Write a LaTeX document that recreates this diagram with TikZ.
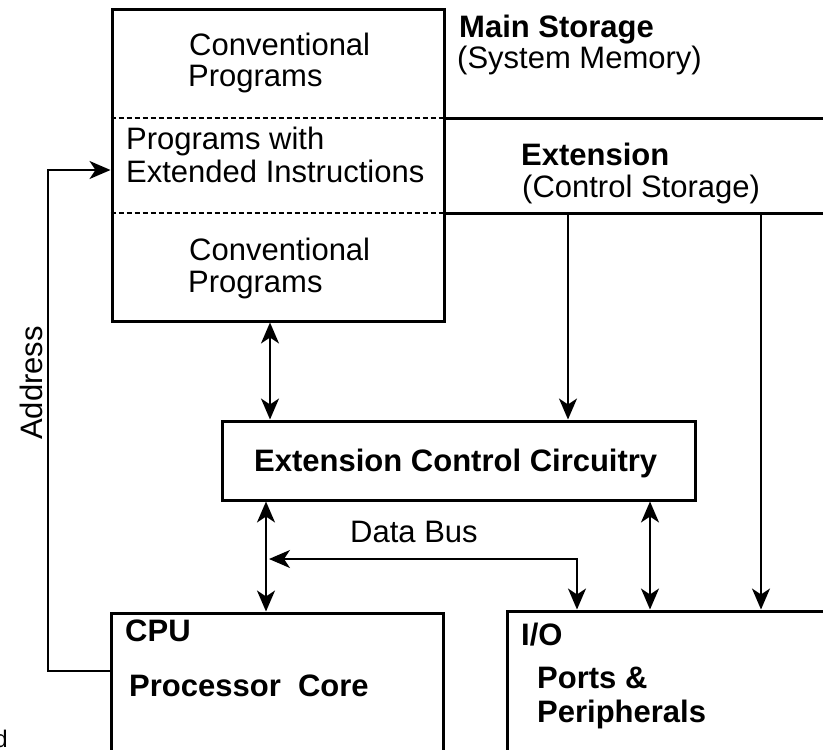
\documentclass[tikz,border=0pt]{standalone}
\usepackage{fontspec}
\setmainfont{Liberation Sans}
\usetikzlibrary{arrows.meta}
\begin{document}
\begin{tikzpicture}[x=1pt,y=-1pt,
  box/.style={draw, line width=3pt, inner sep=0pt},
  txt/.style={inner sep=0pt, anchor=base west, font=\fontsize{31}{32}\selectfont},
  btxt/.style={inner sep=0pt, anchor=base west, font=\bfseries\fontsize{31}{32}\selectfont},
  tip/.tip={Stealth[length=21pt,width=18pt,inset=6pt]},
  arr/.style={line width=2pt, -tip},
  darr/.style={line width=2pt, tip-tip},
  dashline/.style={line width=2pt, dash pattern=on 5pt off 3pt},
  extline/.style={line width=3pt}]
\useasboundingbox (0,0) rectangle (823,750);

% boxes
\node[box, minimum width=332pt, minimum height=312pt] (mem) at (278,165) {};
\node[box, minimum width=473pt, minimum height=79pt] (ecc) at (458.5,460.5) {};
\node[box, minimum width=332pt, minimum height=187pt] (cpu) at (277,706.5) {};
\node[box, minimum width=393pt, minimum height=189pt] (io) at (703.5,705.5) {};

% divisions of main storage and extension band
\coordinate (d1) at (278,118);
\coordinate (d2) at (278,213);
\coordinate (r1) at (830,118);
\coordinate (r2) at (830,213);
\draw[dashline] (mem.west |- d1) -- (mem.east |- d1);
\draw[dashline] (mem.west |- d2) -- (mem.east |- d2);
\draw[extline] (mem.east |- d1) -- (r1);
\draw[extline] (mem.east |- d2) -- (r2);

% texts in main storage
\node[txt] (c1a) at (189,55) {Conventional};
\node[txt] (c1b) at (188,86) {Programs};
\node[txt] (pw1) at (126,149) {Programs with};
\node[txt] (pw2) at (126,182) {Extended Instructions};
\node[txt] (c2a) at (189,260) {Conventional};
\node[txt] (c2b) at (188,292) {Programs};

\node[btxt] (ms1) at (459,37) {Main Storage};
\node[txt] (ms2) at (457,68) {(System Memory)};
\node[btxt] (ex1) at (521,165) {Extension};
\node[txt] (ex2) at (522,197) {(Control Storage)};

\node[btxt] (ecct) at (254,471) {Extension Control Circuitry};

\node[btxt] (cput) at (125,641) {CPU};
\node[btxt] (pct) at (129,696) {Processor\ \ Core};
\node[btxt] (iot) at (521,645) {I/O};
\node[btxt] (pp1) at (537,688) {Ports \&};
\node[btxt] (pp2) at (537,722) {Peripherals};

\node[txt] (dbt) at (350,542) {Data Bus};
\node[txt, rotate=90] (addt) at (42,440) {Address};
\node[inner sep=0pt, anchor=base east, font=\fontsize{24}{24}\selectfont] (cutd) at (8,747) {d};

% connectors
\coordinate (e1) at (568,213);
\coordinate (e2) at (761,213);
\draw[arr] (e1) -- (e1 |- ecc.north);
\draw[arr] (e2) -- (e2 |- io.north);

\coordinate (c270) at (270,0);
\coordinate (c266) at (266,0);
\coordinate (c650) at (650,0);
\draw[darr] (c270 |- mem.south) -- (c270 |- ecc.north);
\draw[darr] (c266 |- ecc.south) -- (c266 |- cpu.north);
\draw[darr] (c650 |- ecc.south) -- (c650 |- io.north);

\coordinate (busL) at (269,559);
\coordinate (busR) at (577,559);
\draw[line width=1.6pt, tip-tip] (busL) -- (busR) -- (busR |- io.north);

\coordinate (ay) at (0,671);
\coordinate (ax) at (48,0);
\coordinate (at) at (0,170);
\draw[arr] (cpu.west |- ay) -- (ax |- ay) -- (ax |- at) -- (mem.west |- at);
\end{tikzpicture}
\end{document}
